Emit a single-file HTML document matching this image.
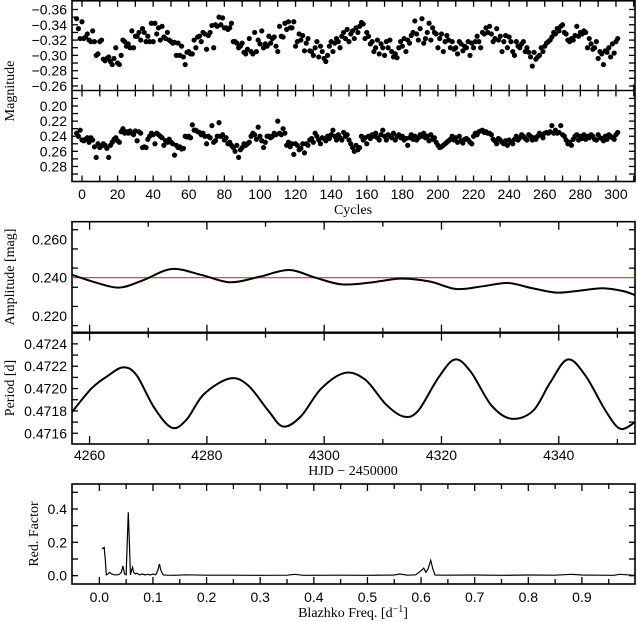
<!DOCTYPE html>
<html><head><meta charset="utf-8"><style>
html,body{margin:0;padding:0;background:#fff}
svg{display:block}
text{font-family:"Liberation Sans",sans-serif;font-size:14px;fill:#000}
.ttl{font-family:"Liberation Serif",serif;font-size:14px}
</style></head><body>
<svg id="chart" width="637" height="622" viewBox="0 0 637 622"></svg>
<script>
// ---------- DATA ----------
const cycleStart = -3;
const magTop = [
-.348,-.335,-.322,-.344,-.322,-.324,-.328,-.32,-.318,-.332,
-.318,-.300,-.302,-.318,-.32,-.295,-.293,-.296,-.298,-.292,
-.288,-.296,-.31,-.29,-.288,-.300,-.32,-.318,-.312,-.315,
-.31,-.332,-.31,-.325,-.325,-.33,-.32,-.335,-.33,-.318,
-.325,-.318,-.342,-.318,-.342,-.328,-.336,-.32,-.338,-.324,
-.322,-.33,-.32,-.318,-.316,-.317,-.3,-.316,-.3,-.312,
-.298,-.288,-.304,-.305,-.302,-.302,-.32,-.31,-.324,-.325,
-.318,-.33,-.328,-.308,-.326,-.33,-.339,-.31,-.34,-.338,
-.35,-.34,-.349,-.336,-.336,-.334,-.336,-.342,-.318,-.318,
-.316,-.31,-.312,-.316,-.304,-.302,-.308,-.322,-.305,-.302,
-.33,-.305,-.32,-.315,-.332,-.31,-.315,-.312,-.325,-.316,
-.322,-.324,-.312,-.305,-.338,-.325,-.324,-.342,-.334,-.344,
-.336,-.336,-.344,-.312,-.318,-.328,-.32,-.326,-.306,-.316,
-.322,-.306,-.305,-.3,-.31,-.318,-.298,-.312,-.305,-.296,
-.292,-.3,-.312,-.318,-.305,-.316,-.322,-.318,-.31,-.325,
-.33,-.322,-.334,-.318,-.328,-.332,-.322,-.336,-.33,-.338,
-.343,-.341,-.322,-.33,-.325,-.315,-.318,-.305,-.31,-.32,
-.302,-.315,-.31,-.3,-.318,-.31,-.32,-.305,-.298,-.302,
-.297,-.31,-.318,-.312,-.322,-.305,-.32,-.316,-.326,-.33,
-.345,-.328,-.32,-.335,-.348,-.316,-.322,-.33,-.342,-.32,
-.336,-.33,-.328,-.31,-.322,-.328,-.305,-.318,-.326,-.32,
-.31,-.318,-.308,-.31,-.302,-.318,-.315,-.306,-.312,-.31,
-.318,-.3,-.316,-.31,-.318,-.325,-.318,-.31,-.33,-.328,
-.336,-.33,-.338,-.328,-.318,-.322,-.335,-.32,-.325,-.305,
-.318,-.326,-.31,-.324,-.318,-.305,-.3,-.318,-.312,-.31,
-.315,-.318,-.305,-.31,-.304,-.298,-.286,-.304,-.295,-.298,
-.3,-.31,-.305,-.312,-.316,-.318,-.32,-.324,-.33,-.328,
-.335,-.332,-.338,-.34,-.33,-.328,-.32,-.318,-.322,-.32,
-.326,-.338,-.325,-.33,-.328,-.332,-.33,-.31,-.322,-.315,
-.308,-.31,-.318,-.296,-.305,-.302,-.288,-.306,-.304,-.31,
-.298,-.315,-.303,-.318,-.322];
const magBottom = [
.236,.240,.232,.245,.246,.244,.242,.248,.242,.245,
.254,.268,.25,.255,.253,.25,.252,.256,.268,.252,
.248,.244,.242,.246,.248,.234,.23,.236,.234,.236,
.233,.236,.238,.233,.246,.234,.236,.255,.254,.255,
.244,.24,.236,.238,.25,.236,.238,.24,.242,.252,
.246,.248,.244,.248,.25,.265,.252,.255,.254,.257,
.256,.24,.241,.24,.242,.225,.232,.232,.234,.235,
.238,.236,.24,.25,.24,.242,.226,.248,.246,.24,
.222,.24,.238,.245,.242,.25,.248,.252,.255,.26,
.252,.268,.258,.255,.25,.252,.25,.248,.24,.236,
.238,.244,.228,.24,.246,.255,.248,.24,.24,.242,
.24,.236,.238,.22,.236,.238,.23,.236,.252,.248,
.254,.25,.264,.25,.252,.258,.256,.25,.262,.25,
.252,.245,.243,.248,.236,.24,.245,.25,.242,.243,
.246,.24,.243,.238,.232,.24,.245,.238,.242,.245,
.235,.24,.238,.245,.25,.255,.26,.252,.258,.255,
.24,.245,.242,.25,.24,.243,.238,.24,.236,.242,
.245,.238,.232,.24,.245,.238,.24,.242,.236,.245,
.24,.238,.242,.24,.245,.243,.252,.242,.238,.244,
.24,.245,.242,.238,.24,.236,.242,.24,.246,.238,
.244,.242,.248,.252,.255,.254,.252,.25,.248,.246,
.244,.24,.245,.242,.248,.24,.246,.249,.244,.243,
.245,.248,.25,.24,.236,.238,.234,.233,.232,.235,
.234,.236,.236,.238,.244,.246,.25,.243,.245,.248,
.25,.246,.252,.245,.248,.25,.244,.24,.245,.242,
.238,.24,.243,.245,.238,.24,.245,.242,.244,.24,
.236,.238,.242,.236,.235,.236,.234,.226,.236,.232,
.236,.235,.226,.238,.24,.245,.25,.248,.252,.244,
.24,.238,.245,.24,.243,.238,.244,.24,.242,.238,
.24,.244,.245,.238,.242,.243,.246,.24,.244,.238,
.24,.242,.244,.238,.235];
const ampHjd = [4257,4261,4265,4269,4274,4279,4284,4289,4294,4298.5,4303,4308,4313,4318,4322.5,4327,4331.3,4335.5,4339.6,4343.5,4347.5,4351,4353];
const ampVal = [.2415,.2375,.2348,.2385,.2445,.2415,.2376,.2405,.2440,.2400,.2365,.2375,.2395,.2380,.2341,.2355,.2372,.2345,.2322,.2332,.2345,.2330,.2309];
const ampMean = 0.240;
const perHjd = [4257,4260.3,4263,4265.7,4268,4271,4274,4276.5,4279.5,4283.9,4287,4290.5,4293,4296,4299.5,4303.5,4307,4310.5,4313.5,4316,4319.5,4322.3,4325,4328.5,4331.9,4335.6,4338.5,4341.5,4344.5,4348,4350.5,4353];
const perVal = [.47179,.47200,.47211,.47219,.47212,.47183,.47165,.47172,.47195,.47209,.47203,.47180,.47166,.47175,.47200,.47214,.47208,.47186,.47175,.47180,.47210,.47226,.47215,.47185,.47173,.47180,.47205,.47226,.47212,.47180,.47164,.47170];
const freq = [0.005,0.009,0.011,0.013,0.016,0.019,0.023,0.028,0.034,0.038,0.041,0.044,0.047,0.050,0.052,0.054,0.056,0.058,0.060,0.062,0.064,0.067,0.070,0.075,0.080,0.085,0.090,0.095,0.100,0.105,0.109,0.112,0.115,0.119,0.125,0.14,0.16,0.2,0.25,0.3,0.35,0.365,0.38,0.45,0.5,0.55,0.56,0.575,0.59,0.600,0.605,0.609,0.613,0.618,0.622,0.626,0.64,0.7,0.75,0.8,0.85,0.88,0.9,0.93,0.96,0.97,0.999];
const redFactor = [0.16,0.17,0.10,0.005,0.01,0.02,0.01,0.005,0.005,0.01,0.02,0.058,0.01,0.005,0.20,0.38,0.20,0.005,0.03,0.05,0.02,0.01,0.015,0.005,0.01,0.005,0.008,0.004,0.01,0.005,0.03,0.07,0.03,0.005,0.003,0.002,0.005,0.003,0.003,0.002,0.003,0.008,0.002,0.003,0.002,0.004,0.01,0.003,0.005,0.03,0.045,0.02,0.04,0.092,0.04,0.004,0.003,0.004,0.002,0.004,0.003,0.008,0.004,0.003,0.002,0.008,0.002];
const cycTicks = [0,20,40,60,80,100,120,140,160,180,200,220,240,260,280,300];
const magTopTicks = [-0.36,-0.34,-0.32,-0.30,-0.28,-0.26];
const magBotTicks = [0.20,0.22,0.24,0.26,0.28];
const ampTicks = [0.220,0.240,0.260];
const perTicks = [0.4716,0.4718,0.4720,0.4722,0.4724];
const hjdTicks = [4260,4280,4300,4320,4340];
const rfTicks = [0.0,0.2,0.4];
const frTicks = [0.0,0.1,0.2,0.3,0.4,0.5,0.6,0.7,0.8,0.9];

// ---------- HELPERS ----------
const NS = "http://www.w3.org/2000/svg";
const svg = document.getElementById('chart');
function mk(tag, attrs, parent){const e=document.createElementNS(NS,tag);for(const k in attrs)e.setAttribute(k,attrs[k]);(parent||svg).appendChild(e);return e;}
function lin(d0,d1,r0,r1){return v=>r0+(v-d0)*(r1-r0)/(d1-d0);}
const L=72,R=635;
const xC = lin(-5.6,310.7,L,R);
const yTop = lin(-0.3724,-0.2541,0,90.5);
const yBot = lin(0.1795,0.2999,90.5,181.5);
const xH = lin(4257,4353,L,R);
const yA = lin(0.2692,0.2113,221.7,332.7);
const yP = lin(0.47250,0.471504,332.7,444);
const xF = lin(-0.051,0.999,L,R);
const yF = lin(0.55,-0.05,484,584);
function smooth(pts){let d=`M${pts[0][0]},${pts[0][1]}`;for(let i=0;i<pts.length-1;i++){const p0=pts[Math.max(0,i-1)],p1=pts[i],p2=pts[i+1],p3=pts[Math.min(pts.length-1,i+2)];const c1=[p1[0]+(p2[0]-p0[0])/6,p1[1]+(p2[1]-p0[1])/6],c2=[p2[0]-(p3[0]-p1[0])/6,p2[1]-(p3[1]-p1[1])/6];d+=`C${c1[0]},${c1[1]} ${c2[0]},${c2[1]} ${p2[0]},${p2[1]}`;}return d;}
function vtick(x,y,len){mk('line',{x1:x,y1:y,x2:x,y2:y+len,stroke:'#000','stroke-width':1.3});}
function htick(x,y,len){mk('line',{x1:x,y1:y,x2:x+len,y2:y,stroke:'#000','stroke-width':1.3});}
function label(x,y,t,anchor,name){const e=mk('text',{x:x,y:y,'text-anchor':anchor});e.textContent=t;return e;}

// ---------- PANEL 1: magnitudes ----------
let g;
let fr=mk('rect',{x:L,y:0.8,width:R-L,height:180.7,fill:'none',stroke:'#000','stroke-width':1.6});


let dv=mk('line',{x1:L,y1:90.5,x2:R,y2:90.5,stroke:'#000','stroke-width':1.6});


for(let c=0;c<=310;c+=10){const x=xC(c);vtick(x,0.8,6);vtick(x,90.5,-6);vtick(x,90.5,6);vtick(x,181.5,-6);}
for(let v=-0.37;v<=-0.255;v+=0.01){const y=yTop(v);if(y>2&&y<89){htick(L,y,6);htick(R,y,-6);}}
for(let v=0.19;v<=0.301;v+=0.01){const y=yBot(v);if(y>92&&y<180){htick(L,y,6);htick(R,y,-6);}}
magTopTicks.forEach(v=>label(L-5,yTop(v)+5,(v<0?'\u2212':'')+Math.abs(v).toFixed(2),'end','mag-top-tick-label'));
magBotTicks.forEach(v=>label(L-5,yBot(v)+5,v.toFixed(2),'end','mag-bottom-tick-label'));
cycTicks.forEach(c=>label(xC(c),199,String(c),'middle','cycles-tick-label'));
g=mk('g',{});
magTop.forEach((v,i)=>{const d=mk('circle',{cx:xC(cycleStart+i),cy:yTop(v),r:2.6,fill:'#000'},g);});
g=mk('g',{});
magBottom.forEach((v,i)=>{const d=mk('circle',{cx:xC(cycleStart+i),cy:yBot(v),r:2.6,fill:'#000'},g);});
let t=mk('text',{x:0,y:0,class:'ttl','text-anchor':'middle',transform:'translate(14,91) rotate(-90)'});t.textContent='Magnitude';

t=mk('text',{x:353,y:214,class:'ttl','text-anchor':'middle'});t.textContent='Cycles';


// ---------- PANEL 2: amplitude / period ----------
fr=mk('rect',{x:L,y:221.7,width:R-L,height:222.3,fill:'none',stroke:'#000','stroke-width':1.6});


dv=mk('line',{x1:L,y1:332.7,x2:R,y2:332.7,stroke:'#000','stroke-width':2.4});


for(let h=4260;h<=4350;h+=10){const x=xH(h);const len=(h%20===0)?8:5;vtick(x,221.7,len);vtick(x,332.7,-len);vtick(x,332.7,len);vtick(x,444,-len);}
for(let v=0.215;v<=0.2665;v+=0.01){const y=yA(v);htick(L,y,6);htick(R,y,-6);}
for(let v=0.4716;v<=0.47245;v+=0.0001){const y=yP(v);htick(L,y,6);htick(R,y,-6);}
ampTicks.forEach(v=>label(L-5,yA(v)+5,v.toFixed(3),'end','amplitude-tick-label'));
perTicks.forEach(v=>label(L-5,yP(v)+5,v.toFixed(4),'end','period-tick-label'));
hjdTicks.forEach(h=>label(xH(h),460,String(h),'middle','hjd-tick-label'));
let ml=mk('line',{x1:L,y1:yA(ampMean),x2:R,y2:yA(ampMean),stroke:'#e03030','stroke-width':1.2});

let ap=mk('path',{d:smooth(ampHjd.map((h,i)=>[xH(h),yA(ampVal[i])])),fill:'none',stroke:'#000','stroke-width':2});

let pp=mk('path',{d:smooth(perHjd.map((h,i)=>[xH(h),yP(perVal[i])])),fill:'none',stroke:'#000','stroke-width':2});

t=mk('text',{x:0,y:0,class:'ttl','text-anchor':'middle',transform:'translate(14,277) rotate(-90)'});t.textContent='Amplitude [mag]';

t=mk('text',{x:0,y:0,class:'ttl','text-anchor':'middle',transform:'translate(14,388) rotate(-90)'});t.textContent='Period [d]';

t=mk('text',{x:353,y:475,class:'ttl','text-anchor':'middle'});t.textContent='HJD \u2212 2450000';


// ---------- PANEL 3: Blazhko frequency ----------
fr=mk('rect',{x:L,y:484,width:R-L,height:100,fill:'none',stroke:'#000','stroke-width':1.6});


for(let i=-1;i<=19;i++){const f=i*0.05;const x=xF(f);if(x<L+1||x>R-1)continue;const len=(i%2===0)?7:5;vtick(x,484,len);vtick(x,584,-len);}
for(let v=0;v<=0.51;v+=0.1){const y=yF(v);htick(L,y,6);htick(R,y,-6);}
rfTicks.forEach(v=>label(L-5,yF(v)+5,v.toFixed(1),'end','red-factor-tick-label'));
frTicks.forEach(f=>label(xF(f),602,f.toFixed(1),'middle','frequency-tick-label'));
let sp=mk('polyline',{points:freq.map((f,i)=>xF(f)+','+yF(redFactor[i])).join(' '),fill:'none',stroke:'#000','stroke-width':1.2});

t=mk('text',{x:0,y:0,class:'ttl','text-anchor':'middle',transform:'translate(38,534) rotate(-90)'});t.textContent='Red. Factor';

t=mk('text',{x:353,y:617,class:'ttl','text-anchor':'middle'});

t.appendChild(document.createTextNode('Blazhko Freq. [d'));
const sup=mk('tspan',{dy:-5,'font-size':'10px'},t);sup.textContent='\u22121';
const cl=mk('tspan',{dy:5},t);cl.textContent=']';
</script>
</body></html>
